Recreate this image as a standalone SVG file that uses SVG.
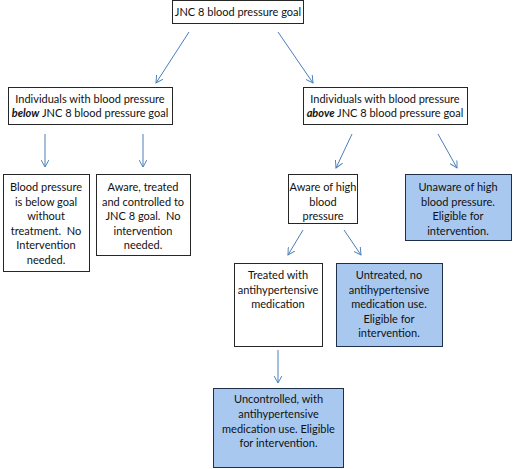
<svg xmlns="http://www.w3.org/2000/svg" width="514" height="469" viewBox="0 0 514 469">
<style>
.b{fill:#ffffff;stroke:#262626;stroke-width:1}
.h{fill:#a8c8f0;stroke:#1f2f4a;stroke-width:1}
text{font-family:Lato,"Liberation Sans",sans-serif;font-size:11px;fill:#111;text-anchor:middle;white-space:pre}
.c line{stroke:#4a7ebb;stroke-width:1;marker-end:url(#ah)}
</style>
<defs>
<marker id="ah" viewBox="0 0 10 10" refX="9" refY="5" markerWidth="8" markerHeight="8" markerUnits="userSpaceOnUse" orient="auto">
<path d="M0,0 L9,5 L0,10" fill="none" stroke="#4a7ebb" stroke-width="1.2"/>
</marker>
</defs>
<rect width="514" height="469" fill="#fff"/>
<g id="n-top"><rect class="b" x="172.5" y="0.5" width="131" height="23"/><text x="238" y="16">JNC 8 blood pressure goal</text></g>
<g id="n-below"><rect class="b" x="8.5" y="87.5" width="164" height="37"/><text x="90" y="103">Individuals with blood pressure</text><text x="90" y="117"><tspan font-weight="bold" font-style="italic">below</tspan> JNC 8 blood pressure goal</text></g>
<g id="n-above"><rect class="b" x="303.5" y="87.5" width="164" height="37"/><text x="385" y="103">Individuals with blood pressure</text><text x="385" y="117"><tspan font-weight="bold" font-style="italic">above</tspan> JNC 8 blood pressure goal</text></g>
<g id="n-untreat-goal"><rect class="b" x="3.5" y="174.5" width="86" height="97"/><text x="46" y="191">Blood pressure</text><text x="46" y="206">is below goal</text><text x="46" y="220">without</text><text x="46" y="235" xml:space="preserve">treatment.  No</text><text x="46" y="249">Intervention</text><text x="46" y="264">needed.</text></g>
<g id="n-controlled"><rect class="b" x="96.5" y="174.5" width="94" height="81"/><text x="143" y="191">Aware, treated</text><text x="143" y="206">and controlled to</text><text x="143" y="220" xml:space="preserve">JNC 8 goal.  No</text><text x="143" y="235">intervention</text><text x="143" y="249">needed.</text></g>
<g id="n-aware"><rect class="b" x="288.5" y="174.5" width="69" height="49"/><text x="323" y="191">Aware of high</text><text x="323" y="206">blood</text><text x="323" y="220">pressure</text></g>
<g id="n-unaware"><rect class="h" x="405.5" y="174.5" width="106" height="66"/><text x="458" y="191">Unaware of high</text><text x="458" y="206">blood pressure.</text><text x="458" y="220">Eligible for</text><text x="458" y="235">intervention.</text></g>
<g id="n-treated"><rect class="b" x="234.5" y="263.5" width="88" height="83"/><text x="278" y="279">Treated with</text><text x="278" y="294">antihypertensive</text><text x="278" y="308">medication</text></g>
<g id="n-untreated"><rect class="h" x="336.5" y="263.5" width="106" height="83"/><text x="389" y="279">Untreated, no</text><text x="389" y="294">antihypertensive</text><text x="389" y="308">medication use.</text><text x="389" y="323">Eligible for</text><text x="389" y="337">intervention.</text></g>
<g id="n-uncontrolled"><rect class="h" x="213.5" y="388.5" width="130" height="79"/><text x="278.5" y="403">Uncontrolled, with</text><text x="278.5" y="418">antihypertensive</text><text x="278.5" y="433">medication use. Eligible</text><text x="278.5" y="447">for intervention.</text></g>
<g id="connectors" class="c">
<line x1="189" y1="32" x2="156" y2="83"/>
<line x1="278" y1="32" x2="313" y2="83"/>
<line x1="45" y1="134" x2="45" y2="167"/>
<line x1="143" y1="134" x2="143" y2="167"/>
<line x1="352" y1="134" x2="336" y2="168"/>
<line x1="438" y1="134" x2="457" y2="168"/>
<line x1="303" y1="230" x2="288" y2="255"/>
<line x1="344" y1="230" x2="361" y2="255"/>
<line x1="278" y1="350" x2="278" y2="383"/>
</g>
</svg>
